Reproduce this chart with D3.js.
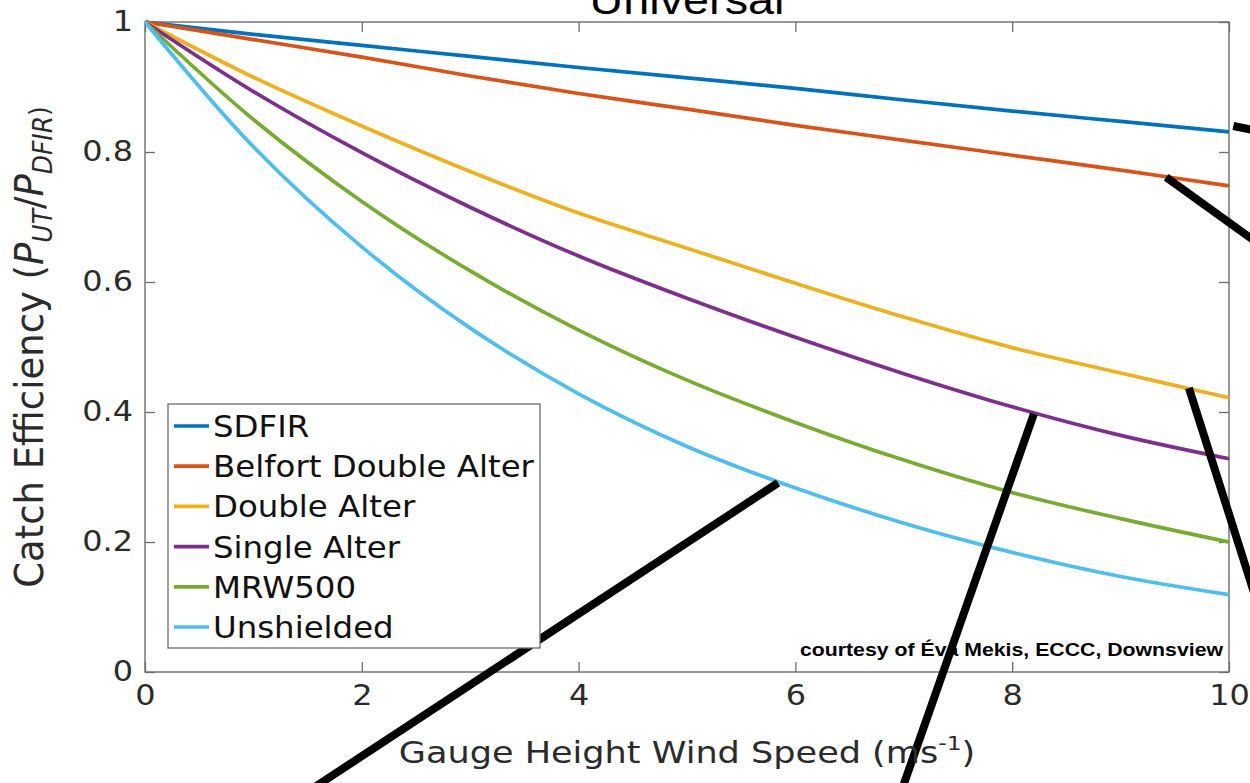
<!DOCTYPE html>
<html>
<head>
<meta charset="utf-8">
<script src="https://cdn.jsdelivr.net/npm/d3@7"></script>
<style>
  body { margin: 0; background: #fff; }
  svg { display: block; }
</style>
</head>
<body>
<div id="chart"></div>
<script>
// wind speed (m/s) and catch efficiency
const speeds      = [0, 1, 2, 3, 4, 5, 6, 7, 8, 9, 10];
const sdfir       = [1, 0.981, 0.964, 0.947, 0.930, 0.914, 0.898, 0.880, 0.863, 0.847, 0.831];
const belfort     = [1, 0.973, 0.946, 0.917, 0.890, 0.866, 0.841, 0.818, 0.795, 0.772, 0.748];
const doubleAlter = [1, 0.915, 0.840, 0.770, 0.706, 0.652, 0.598, 0.546, 0.499, 0.460, 0.422];
const singleAlter = [1, 0.893, 0.799, 0.715, 0.640, 0.575, 0.515, 0.459, 0.408, 0.364, 0.328];
const mrw500      = [1, 0.850, 0.724, 0.617, 0.526, 0.449, 0.384, 0.326, 0.276, 0.236, 0.200];
const unshielded  = [1, 0.808, 0.654, 0.529, 0.428, 0.347, 0.283, 0.229, 0.184, 0.147, 0.119];

const seriesNames  = ["SDFIR", "Belfort Double Alter", "Double Alter", "Single Alter", "MRW500", "Unshielded"];
const seriesValues = [sdfir, belfort, doubleAlter, singleAlter, mrw500, unshielded];
const seriesColors = ["#0072BD", "#D95319", "#EDB120", "#7E2F8E", "#77AC30", "#4DBEEE"];

const xTicks = [0, 2, 4, 6, 8, 10];
const yTicks = [0, 0.2, 0.4, 0.6, 0.8, 1];

// black pointer lines drawn over the figure (speed, efficiency)
const pointerLines = [
  [[5.84, 0.291], [1.52, -0.182]],
  [[8.20, 0.397], [6.98, -0.182]],
  [[9.63, 0.437], [10.37, 0.049]],
  [[9.42, 0.761], [10.38, 0.646]],
  [[10.04, 0.840], [10.56, 0.822]]
];

const W = 1250, H = 783;
const margin = {top: 22, right: 21, bottom: 111, left: 145};
const width = W - margin.left - margin.right,
      height = H - margin.top - margin.bottom;
const SX = 1.14; // glyphs in the picture are a bit wider than tall
const axisGrey = "#6e6e6e", labelGrey = "#2b2b2b";

const svg = d3.select("#chart").append("svg")
    .attr("width", W).attr("height", H);

const g = svg.append("g").attr("transform", `translate(${margin.left},${margin.top})`);

const xScale = d3.scaleLinear().domain([0, 10]).range([0, width]);
const yScale = d3.scaleLinear().domain([0, 1]).range([height, 0]);

// title, mostly cut off at the top as in the source
svg.append("text")
    .attr("transform", `translate(${margin.left + width / 2},14) scale(${SX},1)`)
    .attr("text-anchor", "middle")
    .attr("font-family", "Liberation Sans, Arial, sans-serif")
    .attr("font-size", 41)
    .attr("fill", "#000")
    .text("Universal");

// axes with inward ticks
const xAxis = d3.axisBottom(xScale).tickValues(xTicks).tickSizeInner(-10).tickSizeOuter(0)
    .tickFormat(d3.format("~g"));
const yAxis = d3.axisLeft(yScale).tickValues(yTicks).tickSizeInner(-10).tickSizeOuter(0).tickPadding(10.5)
    .tickFormat(d3.format("~g"));

const gx = g.append("g").attr("transform", `translate(0,${height})`).call(xAxis);
const gy = g.append("g").call(yAxis);
g.append("g").call(d3.axisTop(xScale).tickValues(xTicks).tickSizeInner(-10).tickSizeOuter(0).tickFormat(""));
g.append("g").attr("transform", `translate(${width},0)`)
    .call(d3.axisRight(yScale).tickValues(yTicks).tickSizeInner(-10).tickSizeOuter(0).tickFormat(""));

g.selectAll(".domain").remove();
g.selectAll(".tick line").attr("stroke", axisGrey).attr("stroke-width", 1.3);
[gx, gy].forEach(a => a.selectAll(".tick text")
    .attr("font-family", "DejaVu Sans, sans-serif")
    .attr("font-size", 28)
    .attr("fill", labelGrey)
    .attr("transform", `scale(${SX},1)`));
gx.selectAll(".tick text").attr("dy", "0.71em").attr("y", 13);

g.append("rect")
    .attr("width", width).attr("height", height)
    .attr("fill", "none").attr("stroke", axisGrey).attr("stroke-width", 1.4);

// curves
const line = d3.line()
    .x((d, i) => xScale(speeds[i]))
    .y(d => yScale(d))
    .curve(d3.curveCatmullRom);

g.append("g").selectAll("path")
    .data(seriesValues)
    .join("path")
    .attr("d", d => line(d))
    .attr("fill", "none")
    .attr("stroke", (d, i) => seriesColors[i])
    .attr("stroke-width", 3.7);

// axis labels
svg.append("text")
    .attr("transform", `translate(${margin.left + width / 2},763) scale(1.17,1)`)
    .attr("text-anchor", "middle")
    .attr("font-family", "DejaVu Sans, sans-serif")
    .attr("font-size", 30)
    .attr("fill", labelGrey)
    .call(t => {
        t.append("tspan").text("Gauge Height Wind Speed (ms");
        t.append("tspan").attr("font-size", 20).attr("dy", -13).text("-1");
        t.append("tspan").attr("dy", 13).text(")");
    });

svg.append("text")
    .attr("transform", `translate(43,${margin.top + height / 2}) scale(1.05,1) rotate(-90)`)
    .attr("text-anchor", "middle")
    .attr("font-family", "DejaVu Sans, sans-serif")
    .attr("font-size", 37)
    .attr("fill", labelGrey)
    .call(t => {
        t.append("tspan").text("Catch Efficiency (");
        t.append("tspan").attr("font-style", "italic").text("P");
        t.append("tspan").attr("font-style", "italic").attr("font-size", 25).attr("dy", 9).text("UT");
        t.append("tspan").attr("dy", -9).text("/");
        t.append("tspan").attr("font-style", "italic").text("P");
        t.append("tspan").attr("font-style", "italic").attr("font-size", 25).attr("dy", 9).text("DFIR");
        t.append("tspan").attr("font-size", 25).attr("dy", -4).text(")");
    });

// legend
const legend = svg.append("g").attr("transform", "translate(168,404)");
legend.append("rect")
    .attr("width", 372).attr("height", 244)
    .attr("fill", "#fff").attr("stroke", axisGrey).attr("stroke-width", 1.3);
const rows = legend.selectAll("g.row")
    .data(seriesNames)
    .join("g")
    .attr("class", "row")
    .attr("transform", (d, i) => `translate(0,${22 + i * 40.2})`);
rows.append("line")
    .attr("x1", 6).attr("x2", 41)
    .attr("stroke", (d, i) => seriesColors[i])
    .attr("stroke-width", 3.7);
rows.append("text")
    .attr("transform", `translate(45,11) scale(1.08,1)`)
    .attr("font-family", "DejaVu Sans, sans-serif")
    .attr("font-size", 30)
    .attr("fill", "#111")
    .text(d => d);

// credit
svg.append("text")
    .attr("transform", `translate(1223,656) scale(1.12,1)`)
    .attr("text-anchor", "end")
    .attr("font-family", "Liberation Sans, Arial, sans-serif")
    .attr("font-weight", "bold")
    .attr("font-size", 19)
    .attr("fill", "#000")
    .text("courtesy of Éva Mekis, ECCC, Downsview");

// pointer lines on top
const seg = d3.line().x(d => xScale(d[0])).y(d => yScale(d[1]));
g.append("g").selectAll("path")
    .data(pointerLines)
    .join("path")
    .attr("d", seg)
    .attr("fill", "none")
    .attr("stroke", "#000")
    .attr("stroke-width", 8);
</script>
</body>
</html>
